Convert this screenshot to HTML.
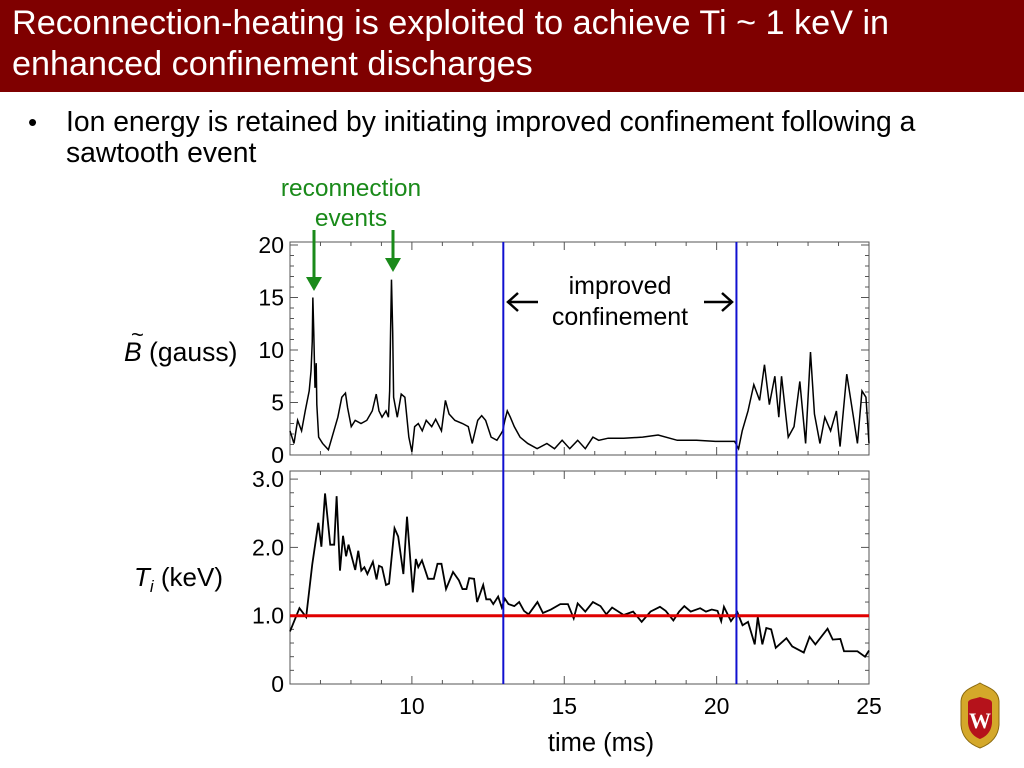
<!DOCTYPE html>
<html><head><meta charset="utf-8"><style>
body{margin:0;width:1024px;height:768px;background:#fff;overflow:hidden;font-family:"Liberation Sans",Arial,sans-serif;position:relative}
.hdr{position:absolute;left:0;top:0;width:1024px;height:92px;background:#7f0000}
.title{position:absolute;left:12px;top:3px;color:#fff;font-size:34.2px;line-height:41px;white-space:nowrap}
.bul{position:absolute;left:28px;top:107px;font-size:26px}
.btxt{position:absolute;left:66px;top:106px;font-size:28.3px;line-height:31px;width:940px;white-space:nowrap}
</style></head><body>
<div class="hdr"></div>
<div class="title">Reconnection-heating is exploited to achieve Ti ~ 1 keV in<br>enhanced confinement discharges</div>
<div class="bul">•</div>
<div class="btxt">Ion energy is retained by initiating improved confinement following a<br>sawtooth event</div>
<svg id="ch" width="1024" height="768" style="position:absolute;left:0;top:0" font-family="Liberation Sans, Arial, sans-serif"></svg>
<svg width="44" height="68" style="position:absolute;left:958px;top:681px" viewBox="0 0 44 68">
<path d="M22 2 C28 6 40 8 41 20 L41 44 C40 58 30 64 22 67 C14 64 4 58 3 44 L3 20 C4 8 16 6 22 2Z" fill="#d4a82a" stroke="#8a6a10"/>
<path d="M22 16 C28 18 34 18 34 22 L34 42 C33 52 27 56 22 58 C17 56 11 52 10 42 L10 22 C10 18 16 18 22 16Z" fill="#b5121b"/>
<text x="22" y="47" font-size="22" font-family="Liberation Serif, serif" fill="#fff" text-anchor="middle" font-weight="bold">W</text>
</svg>
<script>
const bTime=[6.0,6.13,6.25,6.38,6.5,6.63,6.69,6.73,6.75,6.78,6.82,6.86,6.88,6.94,7.07,7.26,7.38,7.57,7.7,7.82,7.89,8.01,8.14,8.33,8.52,8.7,8.83,8.92,9.02,9.15,9.23,9.27,9.3,9.33,9.37,9.4,9.52,9.65,9.77,9.9,10.0,10.09,10.21,10.34,10.47,10.65,10.78,10.97,11.1,11.22,11.41,11.66,11.85,11.98,12.16,12.29,12.42,12.6,12.79,12.92,12.98,13.05,13.13,13.23,13.36,13.55,13.8,14.11,14.43,14.68,14.93,15.18,15.44,15.69,15.94,16.13,16.44,16.95,17.57,18.08,18.71,19.34,19.96,20.59,20.72,20.84,21.03,21.22,21.41,21.57,21.73,21.91,22.04,22.13,22.35,22.54,22.73,22.92,23.08,23.21,23.39,23.55,23.74,23.93,24.05,24.27,24.49,24.62,24.77,24.9,25.0];
const bVals=[2.3,1.1,3.3,2.3,4.2,6.1,8,10.8,15,11.7,6.4,8.75,4.8,1.7,1.1,0.5,1.7,3.6,5.5,5.9,4.5,2.7,3.3,3,3.3,4.2,5.8,4.2,3.6,4.2,3.6,6.1,11.7,16.7,11.7,5.5,3.6,5.8,5.5,1.7,0.3,2.7,3,2.3,3.3,2.7,3.4,2.3,5.2,3.9,3.3,3,2.7,1.1,3.3,3.75,3.3,1.7,1.4,2,2.3,3.3,4.2,3.6,2.7,1.7,1.1,0.6,1.1,0.6,1.4,0.6,1.4,0.6,1.7,1.4,1.6,1.6,1.7,1.9,1.4,1.4,1.3,1.3,0.6,2.3,4.2,6.7,5.2,8.6,4.8,7.5,3.6,7.5,1.7,2.7,7,1.1,9.8,3.9,1.1,3.6,2.3,4.2,0.8,7.7,3.6,1.1,6.1,5.5,1.1];
const tTime=[6.0,6.31,6.53,6.73,6.93,7.03,7.15,7.32,7.45,7.53,7.64,7.74,7.84,7.92,8.14,8.24,8.34,8.44,8.54,8.72,8.84,8.92,9.02,9.15,9.25,9.43,9.55,9.72,9.84,10.03,10.13,10.21,10.33,10.53,10.72,10.84,10.97,11.12,11.35,11.54,11.66,11.79,11.88,12.04,12.14,12.34,12.44,12.57,12.67,12.83,12.95,13.05,13.17,13.36,13.52,13.68,13.83,14.12,14.3,14.56,14.87,15.12,15.31,15.44,15.69,15.94,16.19,16.38,16.57,16.95,17.26,17.54,17.83,18.14,18.33,18.58,18.77,18.94,19.15,19.46,19.65,19.84,20.03,20.15,20.24,20.47,20.68,20.85,21.03,21.25,21.35,21.5,21.63,21.79,21.94,22.29,22.48,22.86,23.05,23.24,23.64,23.81,24.06,24.18,24.62,24.87,25.0];
const tVals=[0.77,1.11,0.98,1.75,2.36,2.01,2.79,2.04,2.04,2.75,1.66,2.17,1.87,2.04,1.67,1.95,1.66,1.71,1.61,1.79,1.53,1.73,1.71,1.45,1.47,2.28,2.16,1.61,2.45,1.34,1.83,1.71,1.81,1.54,1.54,1.76,1.76,1.39,1.64,1.52,1.39,1.39,1.55,1.54,1.2,1.45,1.24,1.24,1.17,1.28,1.12,1.25,1.17,1.14,1.2,1.07,1.02,1.2,1.04,1.09,1.17,1.17,0.96,1.18,1.06,1.2,1.14,1.02,1.12,1.01,1.06,0.91,1.06,1.13,1.07,0.93,1.06,1.14,1.06,1.11,1.06,1.09,1.07,0.92,1.13,0.92,1.05,0.86,0.91,0.58,0.98,0.58,0.82,0.8,0.53,0.67,0.55,0.46,0.69,0.58,0.81,0.65,0.66,0.48,0.48,0.4,0.49];
const xTicks=[10,15,20,25];
const bTicks=[0,5,10,15,20];
const tTicks=[0,1,2,3];
const tTickLabels=["0","1.0","2.0","3.0"];
const confineStart=13.0, confineEnd=20.65, tiRef=1.0;

const svg=document.getElementById('ch');const NS='http://www.w3.org/2000/svg';
function el(tag,a,txt){const e=document.createElementNS(NS,tag);for(const k in a)e.setAttribute(k,a[k]);if(txt!=null)e.textContent=txt;svg.appendChild(e);return e;}
const X0=290,X1=869,XMIN=6,XMAX=25;
const xs=t=>X0+(t-XMIN)/(XMAX-XMIN)*(X1-X0);
const topY=v=>455-v*10.5, botY=v=>684-v*68.3;
const T0=242,T1=455,B0=471,B1=684;
let r=el('rect',{x:X0,y:T0,width:X1-X0,height:T1-T0,fill:'none',stroke:'#555','stroke-width':1});

r=el('rect',{x:X0,y:B0,width:X1-X0,height:B1-B0,fill:'none',stroke:'#555','stroke-width':1});

for(let t=6;t<=25;t++){const x=xs(t),L=t%5==0?8:4;
 [[T0,1],[T1,-1],[B0,1],[B1,-1]].forEach(([y,d])=>{const l=el('line',{x1:x,x2:x,y1:y,y2:y+d*L,stroke:'#555'});});}
for(let v=0;v<=20;v++){const y=topY(v),L=v%5==0?8:4;[[X0,1],[X1,-1]].forEach(([x,d])=>{const l=el('line',{x1:x,x2:x+d*L,y1:y,y2:y,stroke:'#555'});});}
for(let i=0;i<=15;i++){const v=i*0.2,y=botY(v),L=i%5==0?8:4;[[X0,1],[X1,-1]].forEach(([x,d])=>{const l=el('line',{x1:x,x2:x+d*L,y1:y,y2:y,stroke:'#555'});});}
xTicks.forEach(t=>{const e=el('text',{x:xs(t),y:714,'font-size':23,'text-anchor':'middle'},String(t));});
bTicks.forEach(v=>{const e=el('text',{x:284,y:topY(v)+8,'font-size':23,'text-anchor':'end'},String(v));});
tTicks.forEach((v,i)=>{const e=el('text',{x:284,y:botY(v)+8,'font-size':23,'text-anchor':'end'},tTickLabels[i]);});
let p=el('polyline',{points:bTime.map((t,i)=>xs(t)+','+topY(bVals[i])).join(' '),fill:'none',stroke:'#000','stroke-width':1.5});

p=el('polyline',{points:tTime.map((t,i)=>xs(t)+','+botY(tVals[i])).join(' '),fill:'none',stroke:'#000','stroke-width':1.8});

let l=el('line',{x1:X0,x2:X1,y1:botY(tiRef),y2:botY(tiRef),stroke:'#e00000','stroke-width':3});

[confineStart,confineEnd].forEach(t=>{const q=el('line',{x1:xs(t),x2:xs(t),y1:T0,y2:B1,stroke:'#1010d0','stroke-width':2});});
let a=el('text',{x:620,y:294,'font-size':25,'text-anchor':'middle'},'improved');
a=el('text',{x:620,y:325,'font-size':25,'text-anchor':'middle'},'confinement');
[[508,302,538,'left-arrow'],[732,302,704,'right-arrow']].forEach(([tip,y,tail,nm])=>{const d=tip<tail?1:-1;
 let s=el('path',{d:`M${tail},${y} L${tip},${y} M${tip+d*10},${y-9} L${tip},${y} L${tip+d*10},${y+9}`,fill:'none',stroke:'#000','stroke-width':2.5});});
a=el('text',{x:351,y:196,'font-size':24.5,'text-anchor':'middle',fill:'#1a8a1a'},'reconnection');
a=el('text',{x:351,y:226,'font-size':24.5,'text-anchor':'middle',fill:'#1a8a1a'},'events');
[[314,277],[393,258]].forEach(([x,y])=>{let s=el('line',{x1:x,x2:x,y1:230,y2:y,stroke:'#1a8a1a','stroke-width':3});
 s=el('polygon',{points:`${x-8},${y} ${x+8},${y} ${x},${y+14}`,fill:'#1a8a1a'});});
a=el('text',{x:124,y:361,'font-size':26.5});a.innerHTML='<tspan font-style="italic">B</tspan><tspan> (gauss)</tspan>';
a=el('text',{x:131,y:342,'font-size':22},'~');
a=el('text',{x:134,y:586,'font-size':26});a.innerHTML='<tspan font-style="italic">T</tspan><tspan font-style="italic" font-size="17" dy="6">i</tspan><tspan dy="-6"> (keV)</tspan>';
a=el('text',{x:601,y:751,'font-size':25.5,'text-anchor':'middle'},'time (ms)');
</script>
</body></html>
